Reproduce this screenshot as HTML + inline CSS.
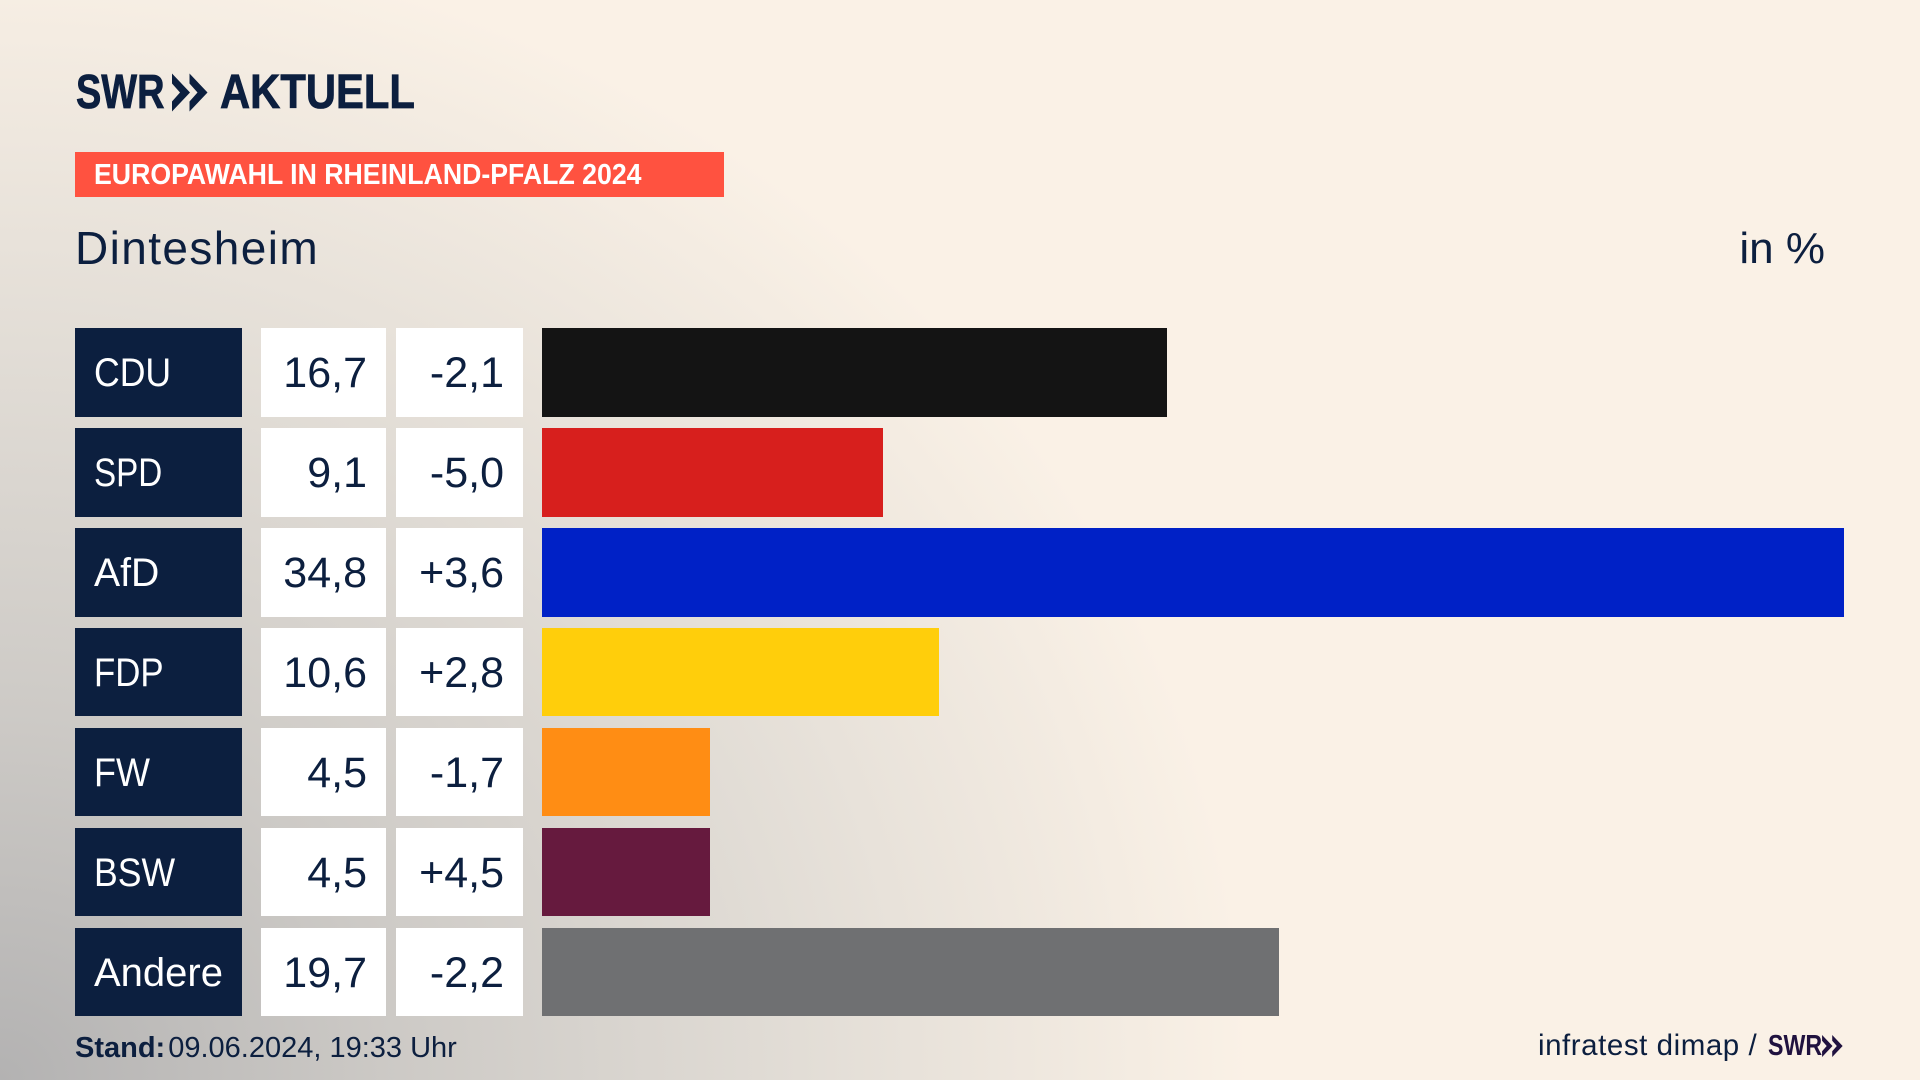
<!DOCTYPE html>
<html lang="de">
<head>
<meta charset="utf-8">
<title>Europawahl in Rheinland-Pfalz 2024 – Dintesheim</title>
<style>
html,body{margin:0;padding:0;width:1920px;height:1080px;overflow:hidden}
body{position:relative;font-family:"Liberation Sans",sans-serif;color:#0c1f3f;
background:radial-gradient(ellipse 1250px 1150px at 0 100%,#b3b2b2 0%,#cdcac6 32%,#e2ddd6 64%,#faf1e6 100%),#faf1e6}
.abs{position:absolute;white-space:nowrap}
#logo-swr{left:76px;top:65px;font:bold 48px/56px "Liberation Sans",sans-serif;transform-origin:0 0;transform:scaleX(.79);-webkit-text-stroke:.8px #0c1f3f}
#logo-aktuell{left:220px;top:65px;font:bold 48px/56px "Liberation Sans",sans-serif;transform-origin:0 0;transform:scaleX(.87);-webkit-text-stroke:.8px #0c1f3f}
#banner{left:75px;top:152px;width:649px;height:45px;background:#ff5240;color:#fff;font:bold 29px/47px "Liberation Sans",sans-serif}
#banner span{position:absolute;left:19px;top:0;transform-origin:0 50%;transform:scaleX(.92);white-space:nowrap}
#title{left:75px;top:222px;font-size:46px;line-height:52px;letter-spacing:1.4px}
#unit{right:95px;top:223px;font-size:44px;line-height:52px}
.row-label,.row-value,.row-diff,.row-bar{position:absolute;height:88.5px;line-height:90px;font-size:43px}
.row-label{left:75px;width:167px;background:#0c1f3f;color:#fff;box-sizing:border-box;padding-left:19px;font-size:40px}
.row-label span{display:inline-block;transform-origin:0 50%}
.row-value{left:261px;width:125px;background:#fff;box-sizing:border-box;padding-right:19px;text-align:right}
.row-diff{left:396px;width:127px;background:#fff;box-sizing:border-box;padding-right:19px;text-align:right}
#stand{left:75px;top:1030px;font-size:29px;line-height:36px}
#stand b{margin-right:3px}
#source{left:1538px;top:1028px;font-size:29.5px;line-height:36px;letter-spacing:.55px}
#source-swr{left:1768px;top:1028px;font:bold 29px/36px "Liberation Sans",sans-serif;color:#20123f;transform-origin:0 0;transform:scaleX(.8)}
</style>
</head>
<body>
<div class="abs" id="logo-swr">SWR</div>
<svg class="abs" style="left:172px;top:73px" width="36" height="39" viewBox="0 0 36 38"><polygon points="0,0 18,19 0,38 0,28 8,19 0,10" fill="#0c1f3f"/><polygon points="17.5,0 35.5,19 17.5,38 17.5,28 25.5,19 17.5,10" fill="#0c1f3f"/></svg>
<div class="abs" id="logo-aktuell">AKTUELL</div>
<div class="abs" id="banner"><span>EUROPAWAHL IN RHEINLAND-PFALZ 2024</span></div>
<div class="abs" id="title">Dintesheim</div>
<div class="abs" id="unit">in %</div>
<div id="chart"></div>
<div class="abs" id="stand"><b>Stand:</b>09.06.2024, 19:33 Uhr</div>
<div class="abs" id="source">infratest dimap /</div>
<div class="abs" id="source-swr">SWR</div>
<svg class="abs" style="left:1821px;top:1035px" width="23" height="22" viewBox="0 0 36 38"><polygon points="0,0 18,19 0,38 0,28 8,19 0,10" fill="#20123f"/><polygon points="17.5,0 35.5,19 17.5,38 17.5,28 25.5,19 17.5,10" fill="#20123f"/></svg>
<script>
const parties = ["CDU", "SPD", "AfD", "FDP", "FW", "BSW", "Andere"];
const shares = [16.7, 9.1, 34.8, 10.6, 4.5, 4.5, 19.7];
const changes = [-2.1, -5.0, 3.6, 2.8, -1.7, 4.5, -2.2];
const partyColors = ["#141414", "#d71f1d", "#0021c6", "#ffce0b", "#ff8d14", "#661a3e", "#6f7072"];

const labelFit = { CDU: .89, SPD: .83, AfD: .98, FDP: .87, FW: .9, BSW: .89, Andere: 1 };
const X_ORIGIN = 542, X_SCALE = 37.42;
const ROW_TOP = 328.2, ROW_STEP = 99.9;
function xLength(v) { return v * X_SCALE; }
function yPos(i) { return ROW_TOP + i * ROW_STEP; }
function fmt(v) { return v.toFixed(1).replace('.', ','); }
function fmtDiff(v) { return (v > 0 ? '+' : '-') + Math.abs(v).toFixed(1).replace('.', ','); }

const chart = document.getElementById('chart');
parties.forEach(function (party, i) {
  const label = document.createElement('div');
  label.className = 'row-label';
  label.style.top = yPos(i) + 'px';
  const labelText = document.createElement('span');
  labelText.textContent = party;
  labelText.style.transform = 'scaleX(' + labelFit[party] + ')';
  label.appendChild(labelText);
  
  
  chart.appendChild(label);

  const value = document.createElement('div');
  value.className = 'row-value';
  value.style.top = yPos(i) + 'px';
  value.textContent = fmt(shares[i]);
  
  
  chart.appendChild(value);

  const diff = document.createElement('div');
  diff.className = 'row-diff';
  diff.style.top = yPos(i) + 'px';
  diff.textContent = fmtDiff(changes[i]);
  
  
  chart.appendChild(diff);

  const bar = document.createElement('div');
  bar.className = 'row-bar';
  bar.style.left = X_ORIGIN + 'px';
  bar.style.top = yPos(i) + 'px';
  bar.style.width = xLength(shares[i]) + 'px';
  bar.style.background = partyColors[i];
  
  
  chart.appendChild(bar);
});
</script>
</body>
</html>
